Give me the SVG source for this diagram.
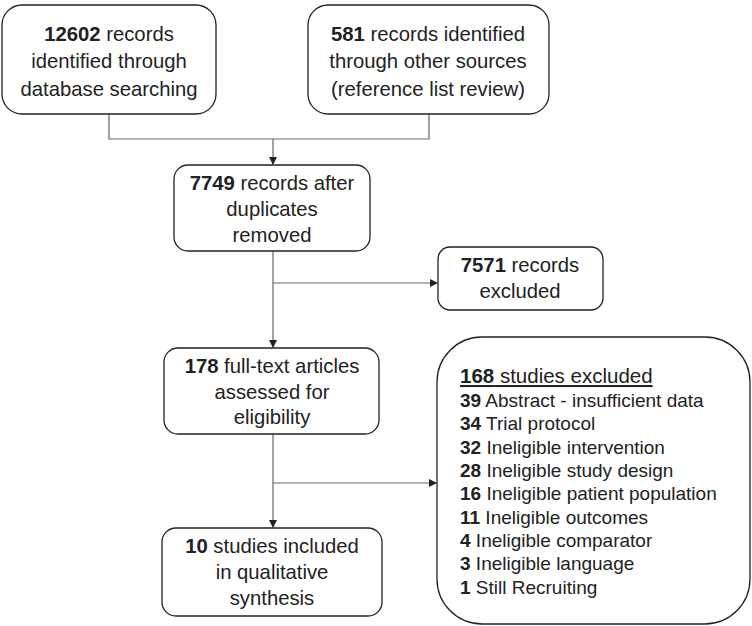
<svg xmlns="http://www.w3.org/2000/svg" width="752" height="626" viewBox="0 0 752 626">
<style>
.box{fill:#fff;stroke:#222;stroke-width:1.3}
.t{font-family:"Liberation Sans",Arial,sans-serif;font-size:20.3px;fill:#222;text-anchor:middle}
.l{font-family:"Liberation Sans",Arial,sans-serif;font-size:19px;fill:#222}
.h{font-size:20.5px;text-decoration:underline}
.b{font-weight:bold}
.c{fill:none;stroke:#666;stroke-width:1.2}
</style>
<defs>
<marker id="ah" markerWidth="8" markerHeight="8" refX="7" refY="4" orient="auto" markerUnits="userSpaceOnUse">
<path d="M0,0 L8,4 L0,8 Z" fill="#222"/>
</marker>
</defs>
<rect width="752" height="626" fill="#fff"/>
<g id="connectors">
<path class="c" d="M109,114 V139 H429 V114"/>
<path class="c" d="M273,139 V164" marker-end="url(#ah)"/>
<path class="c" d="M273,251 V347" marker-end="url(#ah)"/>
<path class="c" d="M273,283 H437" marker-end="url(#ah)"/>
<path class="c" d="M273,434 V527" marker-end="url(#ah)"/>
<path class="c" d="M273,483 H436" marker-end="url(#ah)"/>
</g>
<g id="n1">
<rect class="box" x="2" y="5" width="214" height="109" rx="20"/>
<text class="t" x="109" y="41"><tspan class="b">12602</tspan> records</text>
<text class="t" x="109" y="68">identified through</text>
<text class="t" x="109" y="96">database searching</text>
</g>
<g id="n2">
<rect class="box" x="308" y="5" width="241" height="109" rx="20"/>
<text class="t" x="428" y="41"><tspan class="b">581</tspan> records identified</text>
<text class="t" x="428" y="68">through other sources</text>
<text class="t" x="428" y="96">(reference list review)</text>
</g>
<g id="n3">
<rect class="box" x="174" y="165" width="196" height="86" rx="14"/>
<text class="t" x="272" y="190"><tspan class="b">7749</tspan> records after</text>
<text class="t" x="272" y="216">duplicates</text>
<text class="t" x="272" y="242">removed</text>
</g>
<g id="n4">
<rect class="box" x="438" y="247" width="165" height="63" rx="12"/>
<text class="t" x="520" y="272"><tspan class="b">7571</tspan> records</text>
<text class="t" x="520" y="298">excluded</text>
</g>
<g id="n5">
<rect class="box" x="164" y="348" width="215" height="86" rx="14"/>
<text class="t" x="272" y="373"><tspan class="b">178</tspan> full-text articles</text>
<text class="t" x="272" y="399">assessed for</text>
<text class="t" x="272" y="424">eligibility</text>
</g>
<g id="n6">
<rect class="box" x="162" y="528" width="220" height="88" rx="14"/>
<text class="t" x="272" y="553"><tspan class="b">10</tspan> studies included</text>
<text class="t" x="272" y="579">in qualitative</text>
<text class="t" x="272" y="605">synthesis</text>
</g>
<g id="n7">
<rect class="box" x="437" y="337" width="313" height="287" rx="45"/>
<text class="l h" x="460" y="383"><tspan class="b">168</tspan> studies excluded</text>
<text class="l" x="460" y="407"><tspan class="b">39</tspan> Abstract - insufficient data</text>
<text class="l" x="460" y="430"><tspan class="b">34</tspan> Trial protocol</text>
<text class="l" x="460" y="454"><tspan class="b">32</tspan> Ineligible intervention</text>
<text class="l" x="460" y="477"><tspan class="b">28</tspan> Ineligible study design</text>
<text class="l" x="460" y="500"><tspan class="b">16</tspan> Ineligible patient population</text>
<text class="l" x="460" y="524"><tspan class="b">11</tspan> Ineligible outcomes</text>
<text class="l" x="460" y="547"><tspan class="b">4</tspan> Ineligible comparator</text>
<text class="l" x="460" y="570"><tspan class="b">3</tspan> Ineligible language</text>
<text class="l" x="460" y="594"><tspan class="b">1</tspan> Still Recruiting</text>
</g>
</svg>
